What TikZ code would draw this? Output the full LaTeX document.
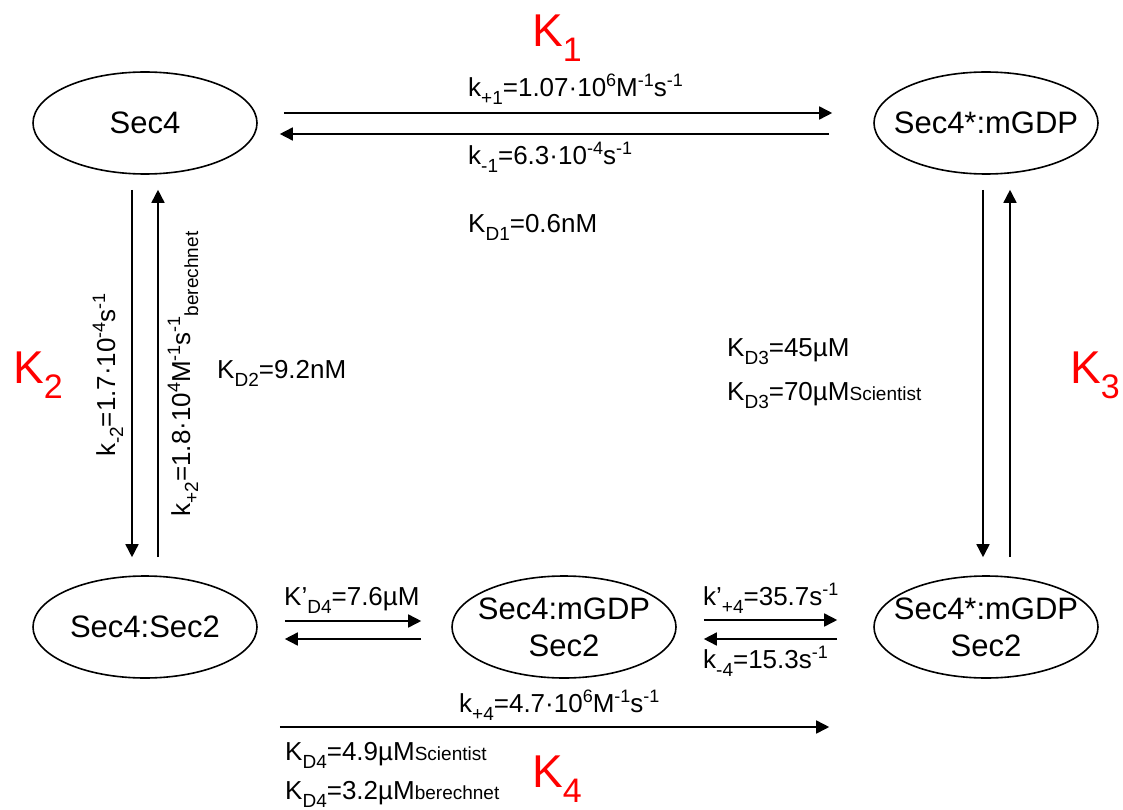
\documentclass[tikz,border=0pt]{standalone}
\usepackage{fontspec}
\setmainfont{Liberation Sans}
\usetikzlibrary{arrows.meta}
\newcommand{\mysub}[1]{\raisebox{-8pt}{\fontsize{19}{19}\selectfont #1}}
\newcommand{\mysup}[1]{\raisebox{10pt}{\fontsize{18}{18}\selectfont #1}}
\newcommand{\mysmall}[1]{{\fontsize{19}{19}\selectfont #1}}
\newcommand{\bigsub}[1]{\raisebox{-15pt}{\fontsize{34}{34}\selectfont #1}}
\tikzset{
  state/.style={draw, line width=1.6pt, ellipse, minimum width=224pt, minimum height=102pt, inner xsep=-40pt, inner ysep=-25pt, align=center, font=\fontsize{31}{37}\selectfont},
  arr/.style={line width=1.6pt, -{Triangle[length=13pt,width=13pt]}},
  lbl/.style={anchor=base west, inner sep=0pt, font=\fontsize{26}{31}\selectfont},
  rlbl/.style={anchor=base, inner sep=0pt, rotate=90, font=\fontsize{26}{31}\selectfont},
  bigK/.style={anchor=base west, inner sep=0pt, text=red, font=\fontsize{46}{50}\selectfont}
}
\usetikzlibrary{shapes.geometric}
\begin{document}
\begin{tikzpicture}[x=1pt,y=-1pt]
\useasboundingbox (0,0) rectangle (1123,810);
% states
\node[state] (sec4) at (145,123) {Sec4};
\node[state] (sec4m) at (986,123) {Sec4*:mGDP};
\node[state] (s42) at (145,627) {Sec4:Sec2};
\node[state] (s4mg2) at (564,627) {Sec4:mGDP\\Sec2};
\node[state] (s4mgs2) at (986,627) {Sec4*:mGDP\\Sec2};
% top arrows
\draw[arr] ([xshift=26pt,yshift=10pt]sec4.east) -- ([xshift=-41pt,yshift=10pt]sec4m.west);
\draw[arr] ([xshift=-44pt,yshift=-11pt]sec4m.west) -- ([xshift=22pt,yshift=-11pt]sec4.east);
% left vertical
\draw[arr] ([xshift=-13pt,yshift=-15pt]sec4.south) -- ([xshift=-13pt,yshift=18pt]s42.north);
\draw[arr] ([xshift=13pt,yshift=18pt]s42.north) -- ([xshift=13pt,yshift=-15pt]sec4.south);
% right vertical
\draw[arr] ([xshift=-3pt,yshift=-15pt]sec4m.south) -- ([xshift=-3pt,yshift=18pt]s4mgs2.north);
\draw[arr] ([xshift=24pt,yshift=18pt]s4mgs2.north) -- ([xshift=24pt,yshift=-15pt]sec4m.south);
% bottom arrows
\draw[arr] ([xshift=27pt,yshift=6pt]s42.east) -- ([xshift=-30pt,yshift=6pt]s4mg2.west);
\draw[arr] ([xshift=-30pt,yshift=-12pt]s4mg2.west) -- ([xshift=27pt,yshift=-12pt]s42.east);
\draw[arr] ([xshift=27pt,yshift=7pt]s4mg2.east) -- ([xshift=-36pt,yshift=7pt]s4mgs2.west);
\draw[arr] ([xshift=-36pt,yshift=-12pt]s4mgs2.west) -- ([xshift=27pt,yshift=-12pt]s4mg2.east);
\draw[arr] ([xshift=22pt,yshift=-100pt]s42.east) -- ([xshift=-44pt,yshift=-100pt]s4mgs2.west);
% red constants
\node[bigK] (K1) at (532,47) {K\bigsub{1}};
\node[bigK] (K2) at (13,383) {K\bigsub{2}};
\node[bigK] (K3) at (1070,383) {K\bigsub{3}};
\node[bigK] (K4) at (532,787) {K\bigsub{4}};
% labels
\node[lbl] (kp1) at (468,97) {k\mysub{+1}=1.07·10\mysup{6}M\mysup{-1}s\mysup{-1}};
\node[lbl] (km1) at (468,165) {k\mysub{-1}=6.3·10\mysup{-4}s\mysup{-1}};
\node[lbl] (kd1) at (468,233) {K\mysub{D1}=0.6nM};
\node[lbl] (kd2) at (217,378) {K\mysub{D2}=9.2nM};
\node[rlbl] (km2) at (115,375) {k\mysub{-2}=1.7·10\mysup{-4}s\mysup{-1}};
\node[rlbl] (kp2) at (190,374) {k\mysub{+2}=1.8·10\mysup{4}M\mysup{-1}s\mysup{-1}\mysub{berechnet}};
\node[lbl] (kd3a) at (727,356) {K\mysub{D3}=45µM};
\node[lbl] (kd3b) at (727,400) {K\mysub{D3}=70µM\mysmall{Scientist}};
\node[lbl] (kdp4) at (284,605) {K’\mysub{D4}=7.6µM};
\node[lbl] (kpp4) at (703,605) {k’\mysub{+4}=35.7s\mysup{-1}};
\node[lbl] (km4) at (703,668) {k\mysub{-4}=15.3s\mysup{-1}};
\node[lbl] (kp4) at (459,712) {k\mysub{+4}=4.7·10\mysup{6}M\mysup{-1}s\mysup{-1}};
\node[lbl] (kd4a) at (285,760) {K\mysub{D4}=4.9µM\mysmall{Scientist}};
\node[lbl] (kd4b) at (285,799) {K\mysub{D4}=3.2µM\mysmall{berechnet}};
\end{tikzpicture}
\end{document}
